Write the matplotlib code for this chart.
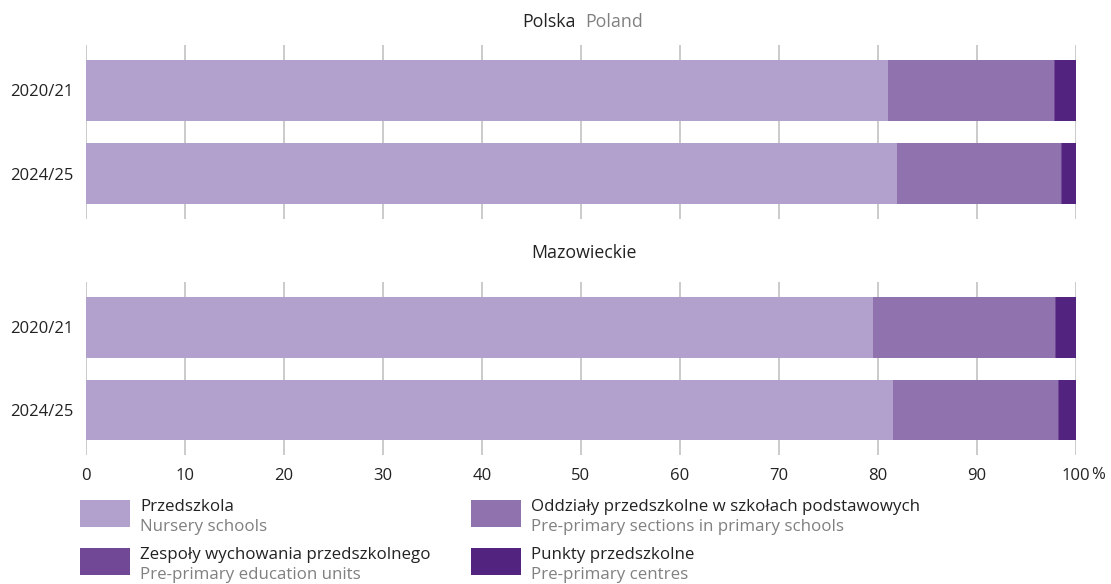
import matplotlib.pyplot as plt
from matplotlib.patches import Rectangle

plt.rcParams['font.family'] = ['Open Sans', 'DejaVu Sans']

W, H = 1111, 584

years = ["2020/21", "2024/25"]
labels_pl = ["Przedszkola", "Oddziały przedszkolne w szkołach podstawowych",
             "Zespoły wychowania przedszkolnego", "Punkty przedszkolne"]
labels_en = ["Nursery schools", "Pre-primary sections in primary schools",
             "Pre-primary education units", "Pre-primary centres"]
colors = ["#b3a1cd", "#8f72ae", "#704896", "#52247f"]

# shares in %, order: Przedszkola, Oddziały, Zespoły, Punkty
polska_przedszkola = [81.0, 81.9]
polska_oddzialy = [16.8, 16.6]
polska_zespoly = [0.1, 0.1]
polska_punkty = [2.1, 1.4]

mazow_przedszkola = [79.5, 81.5]
mazow_oddzialy = [18.4, 16.7]
mazow_zespoly = [0.1, 0.1]
mazow_punkty = [2.0, 1.7]

xticks = [0, 10, 20, 30, 40, 50, 60, 70, 80, 90, 100]


def px(x0, y0, w, h):
    return [x0 / W, 1 - (y0 + h) / H, w / W, h / H]


def draw_panel(ax, series, show_x):
    left = [0, 0]
    for vals, c in zip(series, colors):
        ax.barh(range(len(years)), vals, left=left, height=0.73, color=c, linewidth=0)
        left = [a + b for a, b in zip(left, vals)]
    ax.set_xlim(0, 100)
    ax.set_ylim(1.54, -0.545)
    ax.set_yticks(range(len(years)))
    ax.set_yticklabels(years, fontsize=12, color="#222222")
    ax.tick_params(axis='y', length=0, pad=9)
    ax.set_xticks(xticks)
    ax.grid(axis='x', color="#bdbdbd", linewidth=1.1)
    ax.set_axisbelow(True)
    for s in ax.spines.values():
        s.set_visible(False)
    if show_x:
        ax.set_xticklabels([str(t) for t in xticks], fontsize=12, color="#222222")
        ax.tick_params(axis='x', length=0, pad=9)
    else:
        ax.tick_params(axis='x', length=0, labelbottom=False)


fig = plt.figure(figsize=(W / 100, H / 100), dpi=100)

ax1 = fig.add_axes(px(86, 45, 990, 174))
draw_panel(ax1, [polska_przedszkola, polska_oddzialy, polska_zespoly, polska_punkty], False)

ax2 = fig.add_axes(px(86, 282, 990, 173))
draw_panel(ax2, [mazow_przedszkola, mazow_oddzialy, mazow_zespoly, mazow_punkty], True)

# titles
fig.text(576 / W, 1 - 22 / H, "Polska", ha='right', va='center', fontsize=12.8, color="#222222")
fig.text(585 / W, 1 - 22 / H, "Poland", ha='left', va='center', fontsize=12.8, color="#808080")
fig.text(584 / W, 1 - 253 / H, "Mazowieckie", ha='center', va='center', fontsize=12.8, color="#222222")
fig.text(1091 / W, 1 - 475 / H, "%", ha='left', va='center', fontsize=12, color="#222222")

# legend
legend_pos = [(80, 500), (471, 500), (80, 548), (471, 548)]
for (x0, y0), c, lp, le in zip(legend_pos, colors, labels_pl, labels_en):
    fig.patches.append(Rectangle((x0 / W, 1 - (y0 + 27) / H), 50 / W, 27 / H,
                                 transform=fig.transFigure, color=c, linewidth=0))
    fig.text((x0 + 60) / W, 1 - (y0 + 7) / H, lp, ha='left', va='center',
             fontsize=12.2, color="#222222")
    fig.text((x0 + 60) / W, 1 - (y0 + 27) / H, le, ha='left', va='center',
             fontsize=12.2, color="#808080")

fig.savefig("out.png", dpi=100)
